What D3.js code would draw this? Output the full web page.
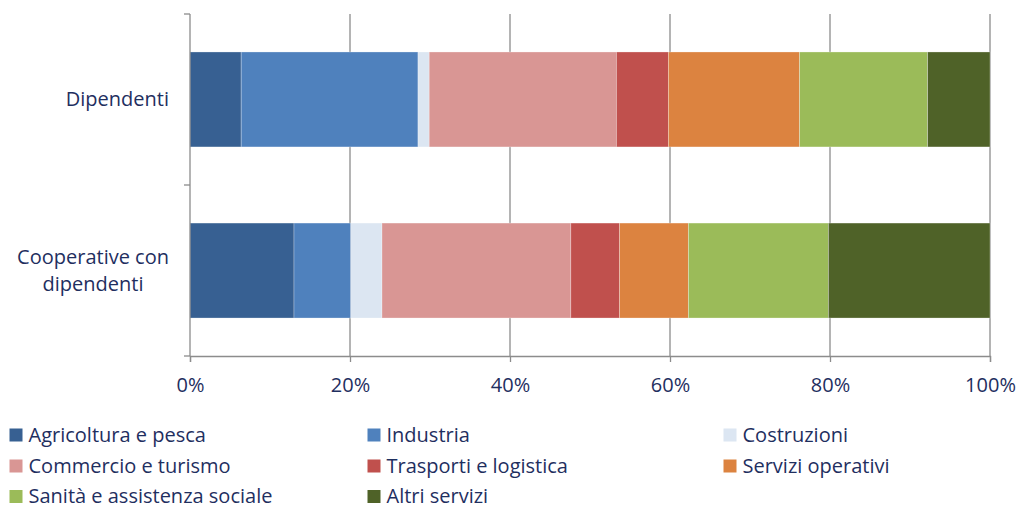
<!DOCTYPE html>
<html><head><meta charset="utf-8">
<script src="https://cdn.jsdelivr.net/npm/d3@7"></script>
<style>body{margin:0;background:#fff}svg{display:block}</style>
</head><body>
<svg id="c" width="1018" height="508"></svg>
<script>
const categories = ["Dipendenti", "Cooperative con dipendenti"];
const categoryLines = [["Dipendenti"], ["Cooperative con", "dipendenti"]];
const series = ["Agricoltura e pesca","Industria","Costruzioni","Commercio e turismo","Trasporti e logistica","Servizi operativi","Sanità e assistenza sociale","Altri servizi"];
const colors = ["#376092","#4F81BD","#DCE6F2","#D99694","#C0504D","#DC8340","#9BBB59","#4F6228"];
const dipendenti = [6.4, 22.1, 1.4, 23.4, 6.5, 16.4, 16.0, 7.8];
const cooperative = [13.0, 7.1, 3.9, 23.6, 6.1, 8.6, 17.5, 20.2];
const tickValues = [0, 20, 40, 60, 80, 100];
const tickLabels = ["0%", "20%", "40%", "60%", "80%", "100%"];

const values = [dipendenti, cooperative];
const svg = d3.select("#c");
const font = "'Open Sans', Lato, sans-serif";
const fontSize = "20px";
const textColor = "#1F2F5F";
const x = d3.scaleLinear().domain([0, 100]).range([190, 990]);
const y = d3.scaleBand().domain(categories).range([14, 356]).paddingInner(0.445).paddingOuter(0.222);

// gridlines
svg.append("g").selectAll("line").data(tickValues.slice(1)).join("line")
  .attr("x1", d => x(d)).attr("x2", d => x(d)).attr("y1", 14).attr("y2", 356)
  .attr("stroke", "#8C8C8C").attr("stroke-width", 1.3);

// bars
categories.forEach((cat, i) => {
  let acc = 0;
  const segs = values[i].map((v, j) => { const s = {x0: acc, x1: acc + v, j}; acc += v; return s; });
  svg.append("g").selectAll("rect").data(segs).join("rect")
    .attr("x", d => x(d.x0)).attr("width", d => x(d.x1) - x(d.x0))
    .attr("y", y(cat)).attr("height", y.bandwidth())
    .attr("fill", d => colors[d.j])
    .attr("stroke", "rgba(255,255,255,0.35)").attr("stroke-width", 0.8);
});

// x axis
const xAxis = d3.axisBottom(x).tickValues(tickValues).tickFormat((d, i) => tickLabels[i]).tickSize(6).tickPadding(0);
const gx = svg.append("g").attr("transform", "translate(0,356)").call(xAxis);
gx.select(".domain").attr("stroke", "#8C8C8C").attr("stroke-width", 1.3);
gx.selectAll(".tick line").attr("stroke", "#8C8C8C").attr("stroke-width", 1.3);
gx.selectAll(".tick text").attr("fill", textColor).attr("dy", null).attr("y", 36)
  .style("font-family", font).style("font-size", fontSize);

// y axis line and ticks
svg.append("line").attr("x1", 190).attr("x2", 190).attr("y1", 14).attr("y2", 356)
  .attr("stroke", "#8C8C8C").attr("stroke-width", 1.3);
const dividers = [14, (y(categories[0]) + y.bandwidth() + y(categories[1])) / 2, 356];
svg.append("g").selectAll("line").data(dividers).join("line")
  .attr("x1", 184).attr("x2", 190).attr("y1", d => d).attr("y2", d => d)
  .attr("stroke", "#8C8C8C").attr("stroke-width", 1.3);

// category labels: block right-aligned at x=169, lines centred within the block
const labelRight = 169;
categories.forEach((cat, i) => {
  const lines = categoryLines[i];
  const cy = y(cat) + y.bandwidth() / 2;
  const lh = 26.5;
  const t = svg.append("text").attr("text-anchor", "middle").attr("fill", textColor)
    .style("font-family", font).style("font-size", fontSize);
  const spans = lines.map((l, k) => t.append("tspan")
    .attr("y", cy + (k - (lines.length - 1) / 2) * lh + 7).text(l));
  const maxW = d3.max(spans, s => s.node().getComputedTextLength());
  spans.forEach(s => s.attr("x", labelRight - maxW / 2));
});

// legend
const colX = [9.5, 367.5, 723.5];
const rowY = [441.5, 472.5, 503];
const lg = svg.append("g");
series.forEach((s, i) => {
  const cx = colX[i % 3], by = rowY[Math.floor(i / 3)];
  lg.append("rect").attr("x", cx).attr("y", by - 13).attr("width", 13).attr("height", 13).attr("fill", colors[i]);
  lg.append("text").attr("x", cx + 19).attr("y", by).attr("fill", textColor)
    .style("font-family", font).style("font-size", fontSize).text(s);
});
</script>
</body></html>
